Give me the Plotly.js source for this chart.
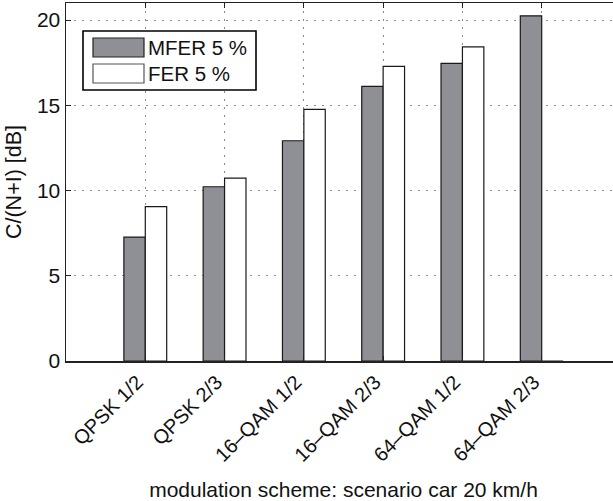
<!DOCTYPE html>
<html>
<head>
<meta charset="utf-8">
<script src="https://cdn.plot.ly/plotly-3.0.1.min.js"></script>
<style>
html,body{margin:0;padding:0;overflow:hidden;background:#fff;width:613px;height:501px;}
#chart{width:621px;height:501px;}
</style>
</head>
<body>
<div id="chart"></div>
<script>
var categories = ["QPSK 1/2", "QPSK 2/3", "16\u2013QAM 1/2", "16\u2013QAM 2/3", "64\u2013QAM 1/2", "64\u2013QAM 2/3"];
var seriesNames = ["MFER 5 %", "FER 5 %"];
var mferValues = [7.27, 10.22, 12.92, 16.11, 17.46, 20.25];
var ferValues = [9.05, 10.73, 14.76, 17.28, 18.43, 0];
var yTicks = [0, 5, 10, 15, 20];

var W = 621, H = 501;
var M = {l: 66, r: 0, t: 3, b: 140};
var PW = W - M.l - M.r, PH = H - M.t - M.b;
function px(x){ return (x - M.l) / PW; }
function py(y){ return (H - M.b - y) / PH; }

var font = "Liberation Sans, Arial, Helvetica, sans-serif";
var grey = "#8f9095";

var traces = [
  {type: "bar", name: seriesNames[0], x: categories, y: mferValues,
   marker: {color: grey, line: {color: "#1a1a1a", width: 1.2}}, showlegend: false, hoverinfo: "y"},
  {type: "bar", name: seriesNames[1], x: categories, y: ferValues,
   marker: {color: "#ffffff", line: {color: "#1a1a1a", width: 1.2}}, showlegend: false, hoverinfo: "y"}
];

var shapes = [
  {type: "rect", xref: "paper", yref: "paper", x0: px(83), x1: px(256), y0: py(90), y1: py(31),
   line: {color: "#000", width: 1.6}, fillcolor: "#fff", layer: "above"},
  {type: "rect", xref: "paper", yref: "paper", x0: px(93), x1: px(144), y0: py(57), y1: py(38),
   line: {color: "#222", width: 1.2}, fillcolor: grey, layer: "above"},
  {type: "rect", xref: "paper", yref: "paper", x0: px(93), x1: px(144), y0: py(83), y1: py(64),
   line: {color: "#555", width: 1.2}, fillcolor: "#fff", layer: "above"}
];
var annotations = [
  {xref: "paper", yref: "paper", x: px(146), y: py(47.5), xanchor: "left", yanchor: "middle",
   text: seriesNames[0], showarrow: false, font: {family: font, size: 20.5, color: "#111"}},
  {xref: "paper", yref: "paper", x: px(146), y: py(73.5), xanchor: "left", yanchor: "middle",
   text: seriesNames[1], showarrow: false, font: {family: font, size: 20.5, color: "#111"}}
];

var layout = {
  width: W, height: H,
  margin: M,
  paper_bgcolor: "#fff", plot_bgcolor: "#fff",
  barmode: "group", bargap: 0.46, bargroupgap: 0,
  showlegend: false,
  font: {family: font, size: 20, color: "#111"},
  xaxis: {
    type: "category", range: [-1, 6],
    tickangle: -45, ticks: "inside", ticklen: 5, tickcolor: "#222",
    ticklabelshift: -8, ticklabelstandoff: 0,
    showline: true, linecolor: "#222", linewidth: 1.5, mirror: "ticks",
    showgrid: true, gridcolor: "#8a8a8a", griddash: "2px,6px", gridwidth: 1,
    tickfont: {family: font, size: 20, color: "#111"},
    title: {text: "modulation scheme: scenario car 20 km/h", font: {family: font, size: 21, color: "#111"}, standoff: 24},
    automargin: false, zeroline: false
  },
  yaxis: {
    range: [0, 21], tickvals: yTicks, ticktext: yTicks.map(String),
    ticks: "inside", ticklen: 5, tickcolor: "#222",
    showline: true, linecolor: "#222", linewidth: 1.5, mirror: "ticks",
    showgrid: true, gridcolor: "#8a8a8a", griddash: "2px,6px", gridwidth: 1,
    tickfont: {family: font, size: 21, color: "#111"},
    title: {text: "C/(N+I) [dB]", font: {family: font, size: 21.5, color: "#111"}, standoff: 9},
    automargin: false, zeroline: false
  },
  shapes: shapes,
  annotations: annotations
};

Plotly.newPlot("chart", traces, layout, {staticPlot: true, displayModeBar: false});
</script>
</body>
</html>
